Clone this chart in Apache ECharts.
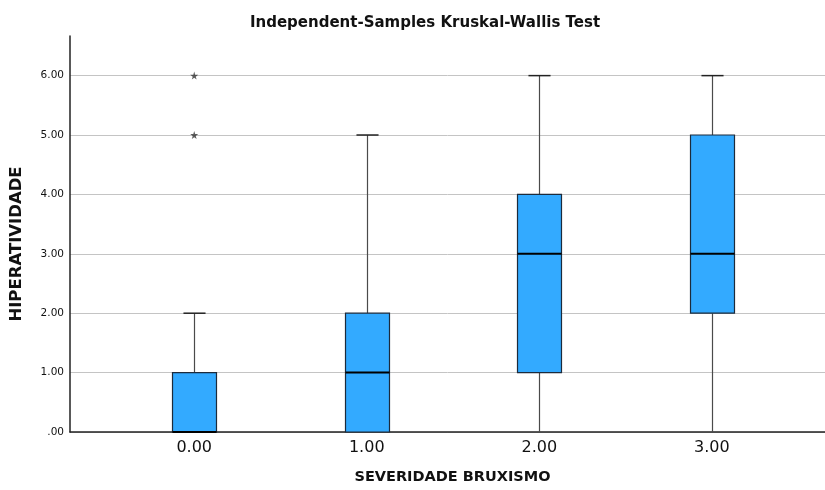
<!DOCTYPE html>
<html>
<head>
<meta charset="utf-8">
<script src="https://cdn.jsdelivr.net/npm/echarts@6/dist/echarts.min.js"></script>
<style>
html,body{margin:0;padding:0;background:#fff;}
#chart{width:825px;height:490px;}
</style>
</head>
<body>
<div id="chart"></div>
<script>
// Data
const categories = [0, 1, 2, 3];
const categoryLabels = ['0.00', '1.00', '2.00', '3.00'];
const minVals = [0, 0, 0, 0];
const q1Vals = [0, 0, 1, 2];
const medianVals = [0, 1, 3, 3];
const q3Vals = [1, 2, 4, 5];
const maxVals = [2, 5, 6, 6];
const outlierX = [0, 0];
const outlierY = [5, 6];
const yTicks = [0, 1, 2, 3, 4, 5, 6];

const boxData = categories.map((c, i) => [c, minVals[i], q1Vals[i], medianVals[i], q3Vals[i], maxVals[i]]);
const outlierData = outlierX.map((x, i) => [x, outlierY[i]]);

function fmt(v) {
  const s = Number(v).toFixed(2);
  return Number(v) === 0 ? '.00' : s;
}

const chart = echarts.init(document.getElementById('chart'), null, {renderer: 'canvas'});
const BOX_W = 0.255;
const CAP_W = 0.128;

chart.setOption({
  animation: false,
  backgroundColor: '#ffffff',
  title: {
    text: 'Independent-Samples Kruskal-Wallis Test',
    left: 420,
    top: 11,
    textAlign: 'center',
    textStyle: {fontFamily: 'DejaVu Sans', fontSize: 15, fontWeight: 'bold', color: '#111'}
  },
  grid: {left: 70, right: 0, top: 36, bottom: 54, containLabel: false},
  xAxis: {
    type: 'value',
    min: -0.72,
    max: 3.656,
    name: 'SEVERIDADE BRUXISMO',
    nameLocation: 'middle',
    nameGap: 38,
    nameTextStyle: {fontFamily: 'DejaVu Sans', fontSize: 14.5, fontWeight: 'bold', color: '#111', padding: [0, 0, 0, 10]},
    axisLine: {show: true, onZero: false, lineStyle: {color: '#222', width: 1.5}},
    axisTick: {show: false, customValues: categories},
    splitLine: {show: false},
    axisLabel: {
      customValues: categories,
      formatter: v => categoryLabels[categories.indexOf(Math.round(v))] || '',
      fontFamily: 'DejaVu Sans', fontSize: 16, color: '#111', margin: 8
    }
  },
  yAxis: {
    type: 'value',
    min: 0,
    max: 6.667,
    name: 'HIPERATIVIDADE',
    nameLocation: 'middle',
    nameGap: 45,
    nameRotate: 90,
    nameTextStyle: {fontFamily: 'DejaVu Sans', fontSize: 16.5, fontWeight: 'bold', color: '#111', padding: [0, 20, 0, 0]},
    axisLine: {show: true, onZero: false, lineStyle: {color: '#222', width: 1.5}},
    axisTick: {show: false, customValues: yTicks},
    splitLine: {show: true, lineStyle: {color: '#c4c4c4', width: 1}},
    axisLabel: {
      customValues: yTicks,
      formatter: v => fmt(v),
      fontFamily: 'DejaVu Sans', fontSize: 10.5, color: '#111', margin: 6
    }
  },
  series: [
    {
      type: 'custom',
      data: boxData,
      z: 3,
      renderItem: function (params, api) {
        const x = api.value(0);
        const vMin = api.value(1), q1 = api.value(2), med = api.value(3), q3 = api.value(4), vMax = api.value(5);
        const pMin = api.coord([x, vMin]);
        const pQ1 = api.coord([x, q1]);
        const pMed = api.coord([x, med]);
        const pQ3 = api.coord([x, q3]);
        const pMax = api.coord([x, vMax]);
        const halfBox = api.size([BOX_W, 0])[0] / 2;
        const halfCap = api.size([CAP_W, 0])[0] / 2;
        const cx = Math.round(pMed[0]) + 0.5;
        const wStyle = {stroke: '#4a4a4a', lineWidth: 1.2};
        const children = [];
        if (vMax > q3) {
          children.push({type: 'line', shape: {x1: cx, y1: pQ3[1], x2: cx, y2: pMax[1]}, style: wStyle});
          children.push({type: 'line', shape: {x1: cx - halfCap, y1: pMax[1], x2: cx + halfCap, y2: pMax[1]}, style: {stroke: '#222', lineWidth: 1.5}});
        }
        if (vMin < q1) {
          children.push({type: 'line', shape: {x1: cx, y1: pQ1[1], x2: cx, y2: pMin[1]}, style: wStyle});
        }
        children.push({
          type: 'rect',
          shape: {x: cx - halfBox, y: pQ3[1], width: halfBox * 2, height: pQ1[1] - pQ3[1]},
          style: {fill: '#33aaff', stroke: '#1c2b3c', lineWidth: 1.2}
        });
        children.push({
          type: 'line',
          shape: {x1: cx - halfBox, y1: pMed[1], x2: cx + halfBox, y2: pMed[1]},
          style: {stroke: '#000', lineWidth: 2}
        });
        return {type: 'group', children: children};
      }
    },
    {
      type: 'scatter',
      data: outlierData,
      z: 4,
      symbol: 'path://M50,0 L61,35 L98,35 L68,57 L79,91 L50,70 L21,91 L32,57 L2,35 L39,35 Z',
      symbolSize: 8,
      itemStyle: {color: '#333'}
    }
  ]
});
</script>
</body>
</html>
